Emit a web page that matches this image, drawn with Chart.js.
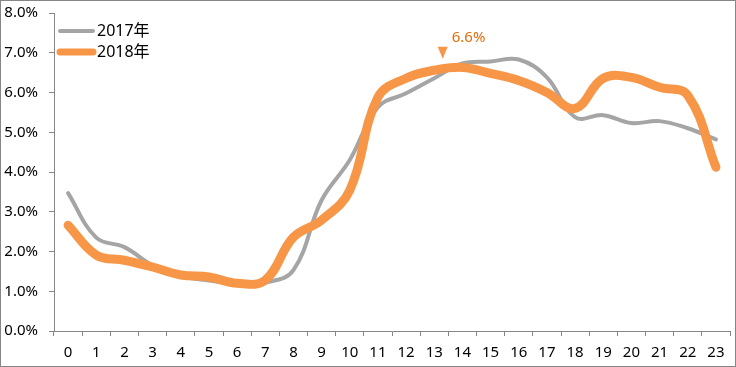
<!DOCTYPE html>
<html>
<head>
<meta charset="utf-8">
<script src="https://cdn.jsdelivr.net/npm/chart.js@4/dist/chart.umd.min.js"></script>
<style>
    html, body { margin: 0; padding: 0; background: #fff; }
    #wrap { width: 736px; height: 367px; position: relative; }
</style>
</head>
<body>
<div id="wrap"><canvas id="hourChart" width="736" height="367"></canvas></div>
<script>
// data
const hours = ['0','1','2','3','4','5','6','7','8','9','10','11','12','13','14','15','16','17','18','19','20','21','22','23'];
const series2017 = [3.47, 2.35, 2.11, 1.65, 1.38, 1.27, 1.2, 1.22, 1.53, 3.29, 4.3, 5.63, 5.98, 6.36, 6.73, 6.78, 6.83, 6.38, 5.38, 5.43, 5.23, 5.28, 5.1, 4.82];
const series2018 = [2.66, 1.91, 1.78, 1.61, 1.41, 1.36, 1.2, 1.28, 2.36, 2.79, 3.54, 5.88, 6.36, 6.56, 6.63, 6.48, 6.3, 6.0, 5.6, 6.36, 6.38, 6.13, 5.93, 4.12];
const seriesNames = ['2017年', '2018年'];
const yTicks = [0, 1, 2, 3, 4, 5, 6, 7, 8];

// peak marker
const peakLabel = '6.6%';
const peakHour = 13.3;
const peakMarkerValue = 6.85;

const FONT = '"Noto Sans", "Noto Sans CJK SC", sans-serif';
const AXIS_COLOR = '#868686';

// custom plugins
const frameAndLegend = {
    id: 'frameAndLegend',
    afterDraw(chart) {
        const ctx = chart.ctx;
        const area = chart.chartArea;

        // outer border
        ctx.save();
        ctx.strokeStyle = AXIS_COLOR;
        ctx.lineWidth = 1;
        ctx.strokeRect(0.5, 0.5, chart.width - 1, chart.height - 1);

        // legend inside the plot
        const rows = [
            { ds: chart.data.datasets[0], y: area.top + 18, w: 4 },
            { ds: chart.data.datasets[1], y: area.top + 39, w: 7 }
        ];
        rows.forEach(r => {
            ctx.beginPath();
            ctx.strokeStyle = r.ds.borderColor;
            ctx.lineWidth = r.w;
            ctx.lineCap = 'round';
            ctx.moveTo(area.left + 6, r.y);
            ctx.lineTo(area.left + 39, r.y);
            ctx.stroke();
            ctx.fillStyle = '#000';
            ctx.font = '16px ' + FONT;
            ctx.textBaseline = 'middle';
            ctx.textAlign = 'left';
            ctx.fillText(r.ds.label, area.left + 43, r.y);
        });

        // peak marker
        const xs = chart.scales.x, ys = chart.scales.y;
        const i = Math.floor(peakHour);
        const x = xs.getPixelForValue(i) + (peakHour - i) * (xs.getPixelForValue(i + 1) - xs.getPixelForValue(i));
        const tip = ys.getPixelForValue(peakMarkerValue);
        ctx.beginPath();
        ctx.fillStyle = '#F79646';
        ctx.moveTo(x - 5, tip - 12);
        ctx.lineTo(x + 5, tip - 12);
        ctx.lineTo(x, tip);
        ctx.closePath();
        ctx.fill();
        ctx.fillStyle = '#E46C0A';
        ctx.font = '15px ' + FONT;
        ctx.textAlign = 'left';
        ctx.textBaseline = 'middle';
        ctx.fillText(peakLabel, x + 9, tip - 21);
        ctx.restore();
    }
};

const hourChart = new Chart(document.getElementById('hourChart').getContext('2d'), {
    type: 'line',
    data: {
        labels: hours,
        datasets: [{
            label: seriesNames[0],
            data: series2017,
            borderColor: '#A5A5A5',
            borderWidth: 4,
            tension: 0.4,
            pointRadius: 0,
            borderCapStyle: 'round',
            borderJoinStyle: 'round',
            order: 1
        }, {
            label: seriesNames[1],
            data: series2018,
            borderColor: '#F79646',
            borderWidth: 9,
            tension: 0.4,
            pointRadius: 0,
            borderCapStyle: 'round',
            borderJoinStyle: 'round',
            order: 0
        }]
    },
    options: {
        responsive: false,
        animation: false,
        layout: {
            padding: { left: 0, top: 13, right: 6, bottom: 0 }
        },
        plugins: {
            legend: { display: false },
            tooltip: { enabled: false }
        },
        scales: {
            x: {
                offset: true,
                border: { color: AXIS_COLOR, width: 1 },
                grid: {
                    display: true,
                    offset: true,
                    drawOnChartArea: false,
                    drawTicks: true,
                    tickLength: 5,
                    color: AXIS_COLOR
                },
                ticks: {
                    color: '#000',
                    font: { family: FONT, size: 15 },
                    padding: 8,
                    maxRotation: 0,
                    autoSkip: false
                },
                afterFit(scale) {
                    scale.height = 36;
                    scale.paddingLeft = 0;
                    scale.paddingRight = 0;
                }
            },
            y: {
                min: 0,
                max: 8,
                afterBuildTicks(scale) { scale.ticks = yTicks.map(v => ({ value: v })); },
                border: { color: AXIS_COLOR, width: 1 },
                grid: {
                    display: true,
                    drawOnChartArea: false,
                    drawTicks: true,
                    tickLength: 5,
                    color: AXIS_COLOR
                },
                ticks: {
                    color: '#000',
                    font: { family: FONT, size: 15 },
                    padding: 11,
                    callback: v => v.toFixed(1) + '%'
                },
                afterFit(scale) {
                    scale.width = 54;
                    scale.paddingTop = 0;
                    scale.paddingBottom = 0;
                }
            }
        }
    },
    plugins: [frameAndLegend]
});
</script>
</body>
</html>
